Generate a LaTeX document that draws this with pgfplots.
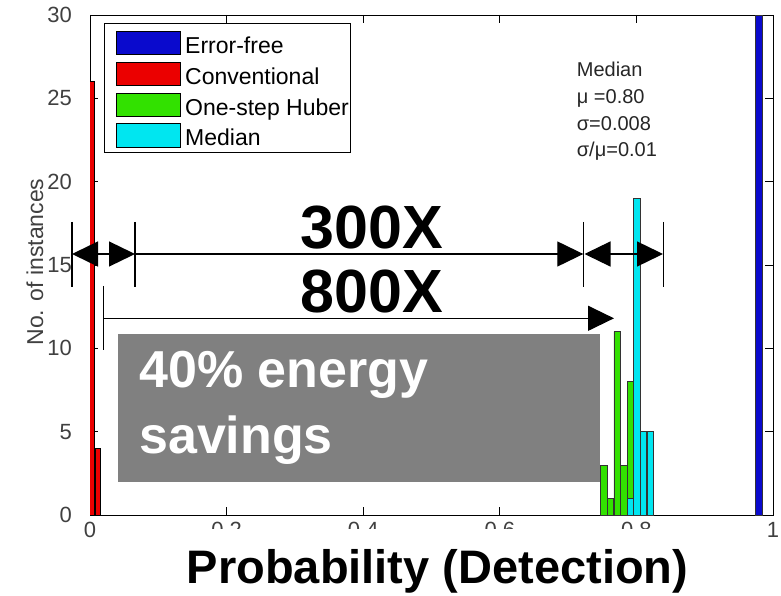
\documentclass[border=0pt]{standalone}
\usepackage{pgfplots}
\pgfplotsset{compat=1.18}
\usepackage{fontspec}
\setmainfont{Liberation Sans}
\usetikzlibrary{arrows.meta}
\definecolor{cblue}{RGB}{10,10,205}
\definecolor{cred}{RGB}{235,0,0}
\definecolor{cgreen}{RGB}{50,225,0}
\definecolor{ccyan}{RGB}{0,230,240}
\definecolor{boxgray}{RGB}{128,128,128}
\begin{document}
\begin{tikzpicture}
\useasboundingbox (0,0) rectangle (781pt,595pt);
\begin{axis}[
  at={(90pt,80pt)}, anchor=south west,
  width=683pt, height=500pt, scale only axis,
  xmin=0, xmax=1, ymin=0, ymax=30,
  xtick={0,0.2,0.4,0.6,0.8,1},
  ytick={0,5,10,15,20,25,30},
  tick align=inside,
  major tick length=8pt,
  axis line style={line width=0.9pt},
  tick style={line width=0.9pt, black},
  /pgf/number format/assume math mode=true,
  ticklabel style={font=\fontsize{22}{26}\selectfont, text=black!75, inner sep=0pt},
  xticklabel style={yshift=-7pt},
  yticklabel style={xshift=-18pt},
  xlabel={Probability (Detection)},
  xlabel style={font=\fontsize{47}{56}\selectfont\bfseries, at={(axis description cs:0.5088,0)}, anchor=base, yshift=-68pt, fill=white, inner xsep=4pt, inner ysep=20pt},
  ylabel={No. of instances},
  ylabel style={font=\fontsize{23}{28}\selectfont, text=black!75, at={(axis description cs:-0.0805,0.506)}, anchor=center},
]
% Conventional
\addplot[ybar, bar shift=0pt, bar width=0.0073, fill=cred, draw=black, line width=0.8pt]
  coordinates {(0.0035,26) (0.011,4)};
% One-step Huber
\addplot[ybar, bar shift=0pt, bar width=0.00966, fill=cgreen, draw=black!80, line width=0.8pt]
  coordinates {(0.7526,3) (0.7622,1) (0.7719,11) (0.7816,3) (0.7912,8) (0.8009,4)};
% Median
\addplot[ybar, bar shift=0pt, bar width=0.00966, fill=ccyan, draw=black!80, line width=0.8pt]
  coordinates {(0.7912,1) (0.8009,19) (0.8105,5) (0.8202,5)};
% Error-free
\addplot[ybar, bar shift=0pt, bar width=0.0102, fill=cblue, draw=black!80, line width=0.8pt]
  coordinates {(0.9796,30)};
\end{axis}
\begin{scope}[x=1pt, y=-1pt, yshift=595pt]
  % legend
  \draw[line width=1pt, fill=white] (104,24) rectangle (350,153);
  \foreach \c/\t/\i in {cblue/Error-free/0, cred/Conventional/1, cgreen/One-step Huber/2, ccyan/Median/3} {
    \filldraw[fill=\c, draw=black, line width=1pt] (116.7,31.7+30.7*\i) rectangle (180,55+30.7*\i);
    \node[anchor=base west, inner sep=0pt, font=\fontsize{23}{27}\selectfont] at (185,53.3+30.9*\i) {\t};
  }
  % median statistics
  \node[anchor=base west, inner sep=0pt, font=\fontsize{20}{24}\selectfont, text=black!85] at (576.7,76.7) {Median};
  \node[anchor=base west, inner sep=0pt, font=\fontsize{20}{24}\selectfont, text=black!85] at (576.7,103.4) {μ =0.80};
  \node[anchor=base west, inner sep=0pt, font=\fontsize{20}{24}\selectfont, text=black!85] at (576.7,130.1) {σ=0.008};
  \node[anchor=base west, inner sep=0pt, font=\fontsize{20}{24}\selectfont, text=black!85] at (576.7,156.8) {σ/μ=0.01};
  % 300X annotation
  \begin{scope}[line width=1.3pt]
    \draw (72,222) -- (72,287);
    \draw (135,222) -- (135,287);
    \draw (583.3,222) -- (583.3,287);
    \draw (663.7,222) -- (663.7,287);
    \draw[{Triangle[length=26pt,width=25pt]}-{Triangle[length=26pt,width=25pt]}] (72,254) -- (135,254);
    \draw[-{Triangle[length=26pt,width=25pt]}] (135,254) -- (583.3,254);
    \draw[{Triangle[length=26pt,width=25pt]}-{Triangle[length=26pt,width=25pt]}] (584.5,254) -- (663,254);
    \draw (103.3,286) -- (103.3,350);
    \draw[-{Triangle[length=26pt,width=25pt]}] (103.3,318.3) -- (614,318.3);
  \end{scope}
  \node[anchor=base, inner sep=0pt, font=\fontsize{61}{70}\selectfont\bfseries] at (372,249) {300X};
  \node[anchor=base, inner sep=0pt, font=\fontsize{61}{70}\selectfont\bfseries] at (372,312) {800X};
  % energy box
  \fill[boxgray] (118.3,334) rectangle (600,481.7);
  \node[anchor=base west, inner sep=0pt, text=white, font=\fontsize{52}{60}\selectfont\bfseries] at (139,387) {40\% energy};
  \node[anchor=base west, inner sep=0pt, text=white, font=\fontsize{52}{60}\selectfont\bfseries] at (139,453.3) {savings};
\end{scope}
\end{tikzpicture}
\end{document}
